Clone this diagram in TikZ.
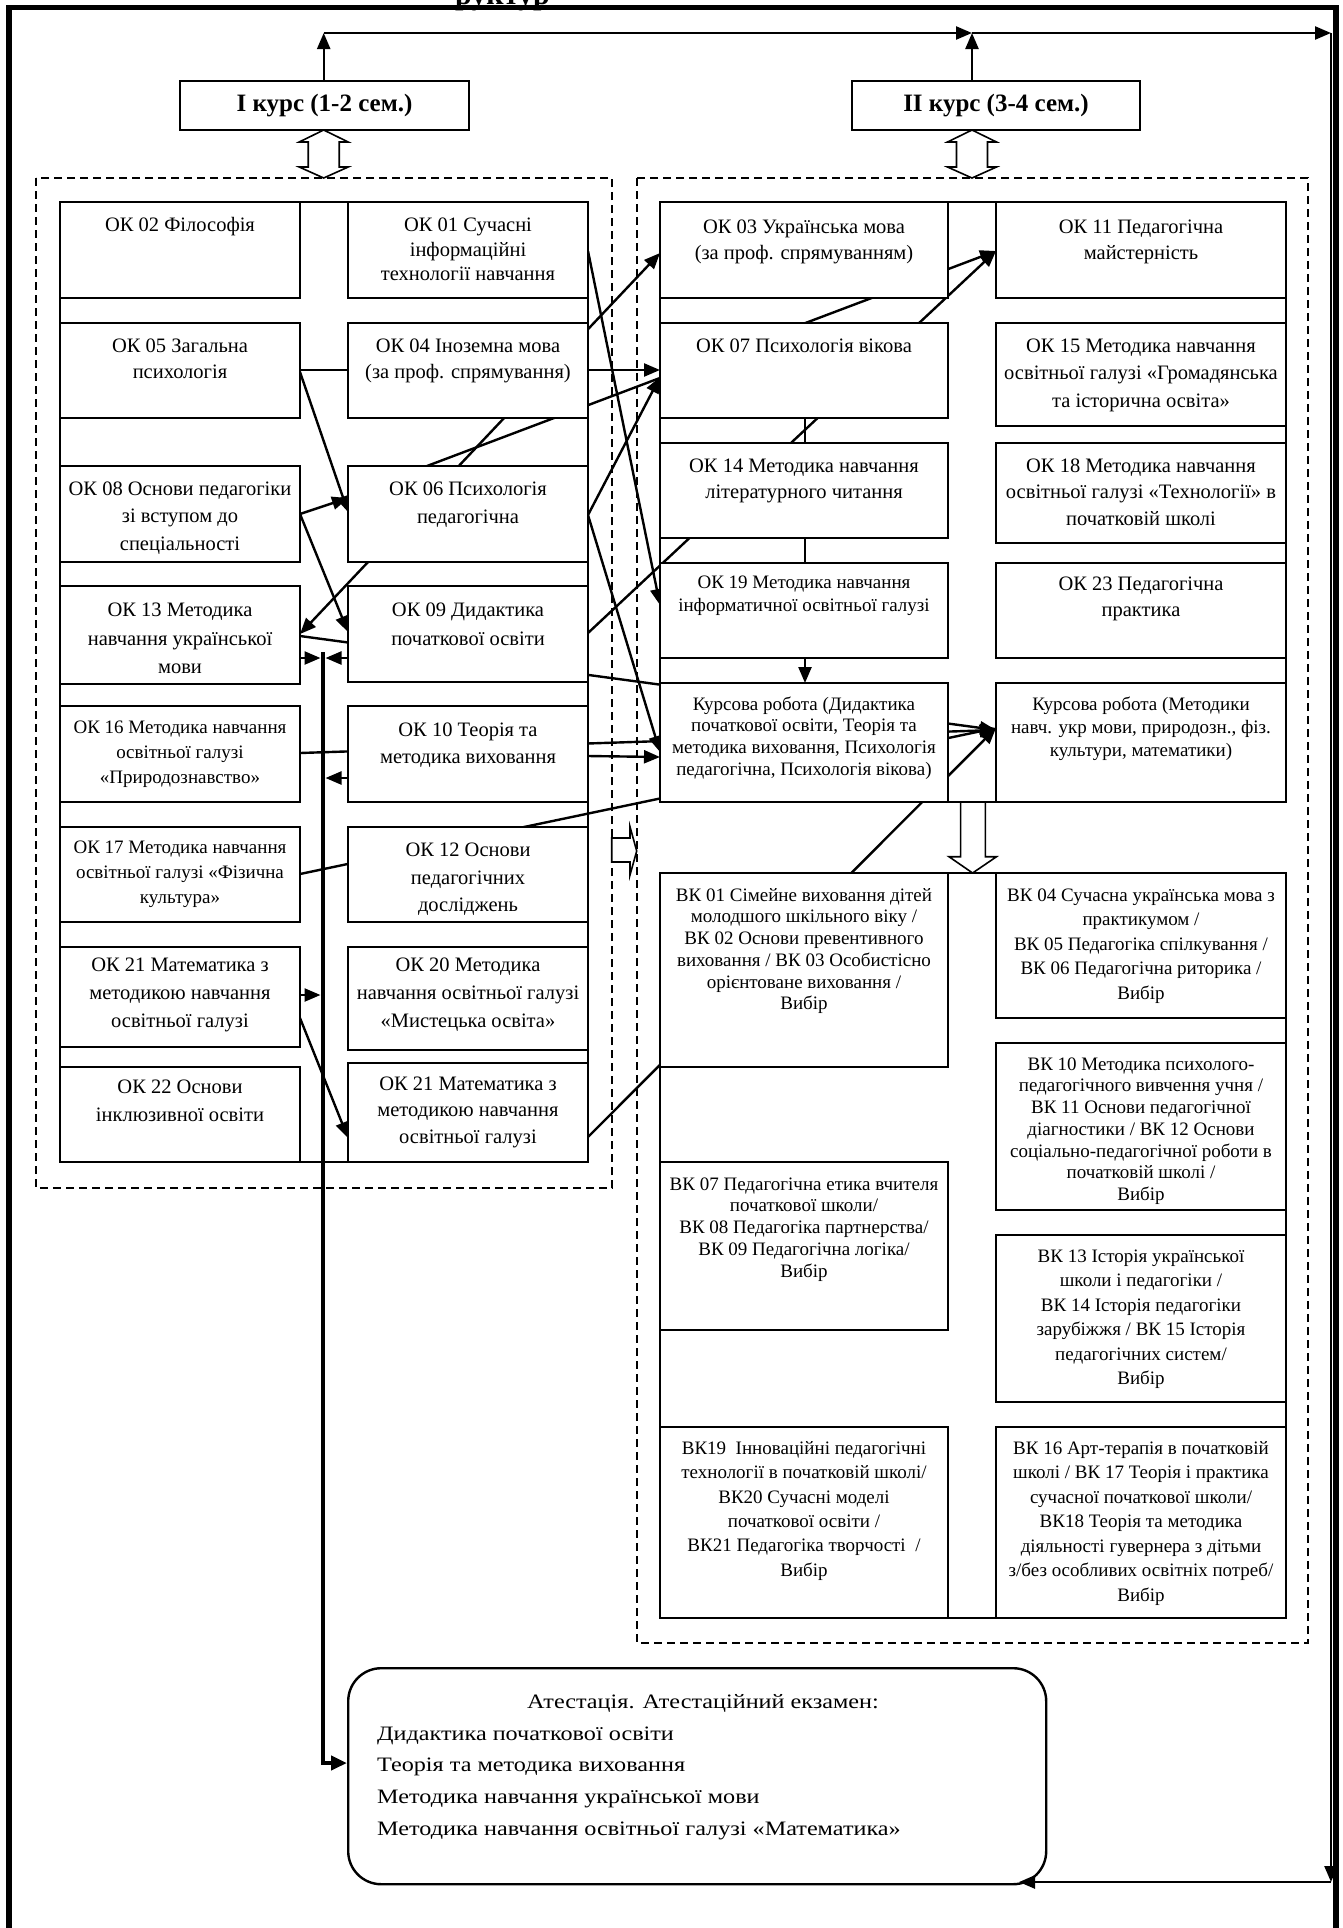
\documentclass[tikz,border=0pt]{standalone}
\usepackage{fontspec}
\setmainfont{Liberation Serif}
\newfontfamily\attfont[FakeStretch=1.18]{Liberation Serif}
\usetikzlibrary{arrows.meta,calc,backgrounds}
\newcommand{\fst}{\rule{0pt}{16pt}}
\newcommand{\F}[1]{\fontsize{20.5}{#1}\selectfont}
\newcommand{\Fs}[1]{\fontsize{19}{#1}\selectfont}
\newcommand{\cell}[8]{%
  \node[cellbox, minimum width=#4pt, minimum height=#5pt, anchor=north west] (#1) at (#2,#3) {};
  \node[celltext, anchor=north, font={#7}] (#1t) at ([yshift=-#6pt]#1.north) {\fst#8};
}
\newcommand{\dblarrow}[1]{%
  \draw[hollow] (#1,130) -- ++(24.5,12) -- ++(-9,0) -- ++(0,25) -- ++(9,0) -- (#1,178)
    -- ++(-24.5,-11) -- ++(9,0) -- ++(0,-25) -- ++(-9,0) -- cycle;}
\begin{document}
\begin{tikzpicture}[x=1pt,y=-1pt,
  cellbox/.style={draw, line width=2pt, fill=white, inner sep=0pt, outer sep=0pt},
  celltext/.style={inner sep=0pt, align=center},
  coursebox/.style={draw, line width=1.8pt, fill=white, inner sep=0pt, outer sep=0pt,
    font=\fontsize{25}{30}\selectfont\bfseries},
  conn/.style={line width=2.4pt},
  arr/.style={conn, -{Triangle[length=16pt,width=13pt]}},
  darr/.style={conn, {Triangle[length=16pt,width=13pt]}-{Triangle[length=16pt,width=13pt]}},
  dashbox/.style={line width=1.6pt, dash pattern=on 8pt off 5pt},
  grp/.style={line width=2.8pt},
  hollow/.style={draw, line width=1.6pt, fill=white, line join=miter},
]
\useasboundingbox (0,0) rectangle (1343,1928);

% ---------- cut-off title fragment at the very top ----------
\node[anchor=base west, inner sep=0pt, font=\fontsize{30}{36}\selectfont\bfseries] (title) at (455,4) {руктур};

% ---------- course boxes ----------
\node[coursebox, minimum width=289pt, minimum height=49pt, anchor=north west] (c1) at (180,81) {I курс (1-2 сем.)};
\node[coursebox, minimum width=288pt, minimum height=49pt, anchor=north west] (c2) at (852,81) {II курс (3-4 сем.)};

% ---------- left group ----------
\cell{ok02}{60}{202}{240}{96}{13.7}{\F{27}}{ОК 02 Філософія}
\cell{ok01}{348}{202}{240}{96}{13.7}{\F{24.2}}{ОК 01 Сучасні\\інформаційні\\технології навчання}
\cell{ok05}{60}{323}{240}{95}{13}{\F{26.7}}{ОК 05 Загальна\\психологія}
\cell{ok04}{348}{323}{240}{95}{13}{\F{26.7}}{ОК 04 Іноземна мова\\(за проф. спрямування)}
\cell{ok08}{60}{466}{240}{96}{13}{\F{27.5}}{ОК 08 Основи педагогіки\\зі вступом до\\спеціальності}
\cell{ok06}{348}{466}{240}{96}{13}{\F{28}}{ОК 06 Психологія\\педагогічна}
\cell{ok13}{60}{586}{240}{98}{14.7}{\F{28.3}}{ОК 13 Методика\\навчання української\\мови}
\cell{ok09}{348}{586}{240}{96}{14.7}{\F{28.3}}{ОК 09 Дидактика\\початкової освіти}
\cell{ok16}{60}{706}{240}{96}{11}{\Fs{25}}{ОК 16 Методика навчання\\освітньої галузі\\«Природознавство»}
\cell{ok10}{348}{706}{240}{96}{14.7}{\F{26.7}}{ОК 10 Теорія та\\методика виховання}
\cell{ok17}{60}{827}{240}{95}{10}{\Fs{25}}{ОК 17 Методика навчання\\освітньої галузі «Фізична\\культура»}
\cell{ok12}{348}{827}{240}{95}{13.7}{\F{27.5}}{ОК 12 Основи\\педагогічних\\досліджень}
\cell{ok21}{60}{947}{240}{100}{8}{\F{28}}{ОК 21 Математика з\\методикою навчання\\освітньої галузі}
\cell{ok20}{348}{947}{240}{103}{8}{\F{28}}{ОК 20 Методика\\навчання освітньої галузі\\«Мистецька освіта»}
\cell{ok22}{60}{1067}{240}{95}{10}{\F{28}}{ОК 22 Основи\\інклюзивної освіти}
\cell{ok21b}{348}{1063}{240}{99}{11}{\F{26.7}}{ОК 21 Математика з\\методикою навчання\\освітньої галузі}

% ---------- right upper group ----------
\cell{ok03}{660}{202}{288}{96}{15}{\F{26.7}}{ОК 03 Українська мова\\(за проф. спрямуванням)}
\cell{ok11}{996}{202}{290}{96}{15}{\F{26.7}}{ОК 11 Педагогічна\\майстерність}
\cell{ok07}{660}{323}{288}{95}{13}{\F{26.7}}{ОК 07 Психологія вікова}
\cell{ok15}{996}{323}{290}{103}{13}{\F{27.5}}{ОК 15 Методика навчання\\освітньої галузі «Громадянська\\та історична освіта»}
\cell{ok14}{660}{443}{288}{95}{13}{\F{26.7}}{ОК 14 Методика навчання\\літературного читання}
\cell{ok18}{996}{443}{290}{100}{13}{\F{26.7}}{ОК 18 Методика навчання\\освітньої галузі «Технології» в\\початковій школі}
\cell{ok19}{660}{563}{288}{95}{9}{\Fs{23.3}}{ОК 19 Методика навчання\\інформатичної освітньої галузі}
\cell{ok23}{996}{563}{290}{95}{11}{\F{26.7}}{ОК 23 Педагогічна\\практика}
\cell{kr1}{660}{683}{288}{119}{11}{\Fs{21.7}}{Курсова робота (Дидактика\\початкової освіти, Теорія та\\методика виховання, Психологія\\педагогічна, Психологія вікова)}
\cell{kr2}{996}{683}{290}{119}{11}{\Fs{23.3}}{Курсова робота (Методики\\навч. укр мови, природозн., фіз.\\культури, математики)}

% ---------- right lower group ----------
\cell{vk01}{660}{873}{288}{194}{12}{\Fs{21.7}}{ВК 01 Сімейне виховання дітей\\молодшого шкільного віку /\\ВК 02 Основи превентивного\\виховання / ВК 03 Особистісно\\орієнтоване виховання /\\Вибір}
\cell{vk04}{996}{873}{290}{145}{12}{\Fs{24.5}}{ВК 04 Сучасна українська мова з\\практикумом /\\ВК 05 Педагогіка спілкування /\\ВК 06 Педагогічна риторика /\\Вибір}
\cell{vk10}{996}{1043}{290}{167}{11}{\Fs{21.7}}{ВК 10 Методика психолого-\\педагогічного вивчення учня /\\ВК 11 Основи педагогічної\\діагностики / ВК 12 Основи\\соціально-педагогічної роботи в\\початковій школі /\\Вибір}
\cell{vk07}{660}{1162}{288}{168}{12}{\Fs{21.7}}{ВК 07 Педагогічна етика вчителя\\початкової школи/\\ВК 08 Педагогіка партнерства/\\ВК 09 Педагогічна логіка/\\Вибір}
\cell{vk13}{996}{1235}{290}{167}{11}{\Fs{24.5}}{ВК 13 Історія української\\школи і педагогіки /\\ВК 14 Історія педагогіки\\зарубіжжя / ВК 15 Історія\\педагогічних систем/\\Вибір}
\cell{vk19}{660}{1427}{288}{191}{11}{\Fs{24.4}}{ВК19~~Інноваційні педагогічні\\технології в початковій школі/\\ВК20 Сучасні моделі\\початкової освіти /\\ВК21 Педагогіка творчості~~/\\Вибір}
\cell{vk16}{996}{1427}{290}{191}{11}{\Fs{24.5}}{ВК 16 Арт-терапія в початковій\\школі / ВК 17 Теорія і практика\\сучасної початкової школи/\\ВК18 Теорія та методика\\діяльності гувернера з дітьми\\з/без особливих освітніх потреб/\\Вибір}

% group outlines
\draw[grp] (60,202) rectangle (588,1162);
\draw[grp] (660,202) rectangle (1286,802);
\draw[grp] (660,873) rectangle (1286,1618);

% ---------- attestation ----------
\node[draw, line width=2.4pt, rounded corners=33pt, minimum width=698pt, minimum height=216pt,
  anchor=north west, inner sep=0pt, fill=white] (att) at (347,1667) {};
\node[font=\attfont\fontsize{20.5}{31.7}\selectfont, anchor=base, inner sep=0pt] (attT) at (703,1708) {Атестація. Атестаційний екзамен:};
\node[font=\attfont\fontsize{20.5}{31.7}\selectfont, align=left, anchor=north west, inner sep=0pt] (attL) at (377,1724)
  {\fst Дидактика початкової освіти\\Теорія та методика виховання\\Методика навчання української мови\\Методика навчання освітньої галузі «Математика»};

% ---------- connectors behind the boxes ----------
\begin{pgfonlayer}{background}
\draw[dashbox] (36,178) rectangle (612,1188);
\draw[dashbox] (637,178) rectangle (1308,1643);
\draw[arr] (ok01.east |- 0,251) -- (ok19.west |- 0,605);
\draw[darr] (ok13.east |- 0,634) -- (ok03.west |- 0,253);
\draw[arr] (ok05.east |- 0,370) -- (ok07.west |- 0,370);
\draw[arr] (ok05.east |- 0,372) -- (ok06.west |- 0,512);
\draw[arr] (ok08.east |- 0,514) -- (ok06.west |- 0,498);
\draw[arr] (ok08.east |- 0,514) -- (ok09.west |- 0,632);
\draw[arr] (ok06.north -| 427,0) -- (ok11.west |- 0,251);
\draw[arr] (ok06.east |- 0,515) -- (ok07.west |- 0,377);
\draw[arr] (ok06.east |- 0,515) -- (kr1.west |- 0,752);
\draw[arr] (ok09.east |- 0,633) -- (ok11.west |- 0,251);
\draw[arr] (ok13.east |- 0,636) -- (kr2.west |- 0,730);
\draw[arr] (ok16.east |- 0,753) -- (kr2.west |- 0,730);
\draw[arr] (ok10.east |- 0,756) -- (kr1.west |- 0,757);
\draw[arr] (ok17.east |- 0,874) -- (kr2.west |- 0,728);
\draw[arr] (ok21b.east |- 0,1137) -- (kr2.west |- 0,728);
\draw[arr] (ok21.east |- 0,1018) -- (ok21b.west |- 0,1138);
\draw[conn] (ok07.south -| 805,0) -- (ok14.north -| 805,0);
\draw[conn] (ok14.south -| 805,0) -- (ok19.north -| 805,0);
\draw[arr] (ok19.south -| 805,0) -- (kr1.north -| 805,0);
\end{pgfonlayer}

% ---------- vertical line to attestation ----------
\coordinate (vtop) at (323,652);
\coordinate (vbot) at (323,1763);
\draw[line width=4.5pt, -{Triangle[length=16pt,width=14pt]}] (vtop) -- (vbot) -- (att.west |- vbot);
\draw[arr] (ok13.east |- 0,658) -- (320.5,658);
\draw[arr] (ok09.west |- 0,658) -- (325.5,658);
\draw[arr] (ok10.west |- 0,778) -- (325.5,778);
\draw[arr] (ok21.east |- 0,995) -- (320.5,995);

% ---------- hollow arrows ----------
\dblarrow{323.7}
\dblarrow{972}
\draw[hollow] (960.6,802) -- (985.3,802) -- (985.3,856.7) -- (996.5,856.7) -- (972.6,873)
  -- (949,856.7) -- (960.6,856.7) -- cycle;
\draw[hollow] (611.7,838) -- (630,838) -- (630,826.7) -- (636.7,851) -- (630,875)
  -- (630,862) -- (611.7,862) -- cycle;

% ---------- frame and top/right connectors ----------
\draw[line width=5.5pt] (9,1940) -- (9,7.5) -- (1336,7.5) -- (1336,1940);
\coordinate (t1) at (323.7,33);
\coordinate (t2) at (972,33);
\coordinate (tr) at (1331,33);
\coordinate (br) at (1331,1882);
\draw[arr] (c1.north -| t1) -- (t1);
\draw[arr] (t1) -- (t2);
\draw[arr] (c2.north -| t2) -- (t2);
\draw[arr] (t2) -- (tr);
\draw[arr] (tr) -- (br);
\draw[arr] (br) -- (br -| 1019,0);
\end{tikzpicture}
\end{document}
